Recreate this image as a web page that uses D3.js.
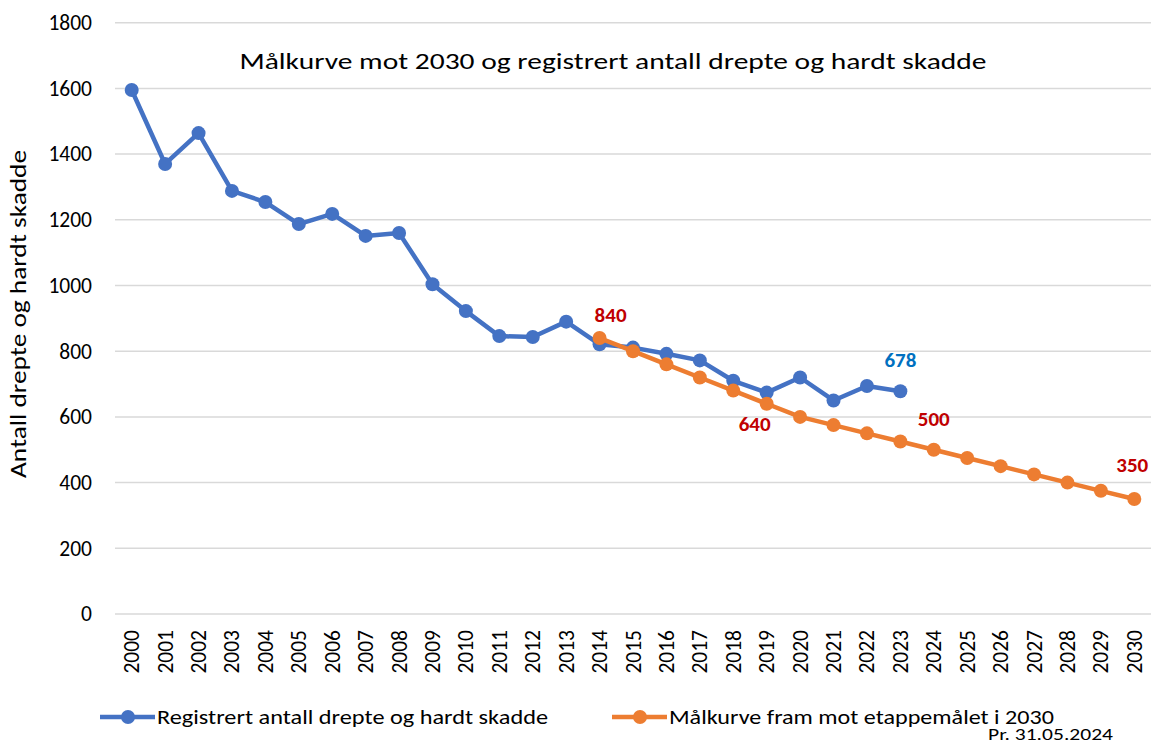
<!DOCTYPE html>
<html>
<head>
<meta charset="utf-8">
<script src="https://cdn.jsdelivr.net/npm/d3@7"></script>
<style>
  body { margin: 0; background: #fff; }
  text { font-family: Carlito, Lato, "Open Sans", sans-serif; }
</style>
</head>
<body>
<div id="chart-area"></div>
<script>
// data
const years = d3.range(2000, 2031).map(String)
const registered = [1595, 1370, 1464, 1288, 1254, 1187, 1218, 1151, 1160, 1004,
  922, 846, 843, 890, 821, 811, 792, 772, 710, 674, 720, 650, 694, 678]
const targetYears = years.slice(14)
const target = [840, 800, 760, 720, 680, 640, 600, 575, 550, 525, 500, 475, 450, 425, 400, 375, 350]
const yTicks = [0, 200, 400, 600, 800, 1000, 1200, 1400, 1600, 1800]

const W = 1157, H = 745
const MARGIN = { LEFT: 115, RIGHT: 6, TOP: 22.7, BOTTOM: 131 }
const BLUE = "#4472C4", ORANGE = "#ED7D31"

const svg = d3.select("#chart-area").append("svg")
  .attr("width", W)
  .attr("height", H)

const xScale = d3.scaleBand()
  .domain(years)
  .range([MARGIN.LEFT, W - MARGIN.RIGHT])
const xc = d => xScale(d) + xScale.bandwidth() / 2

const yScale = d3.scaleLinear()
  .domain([0, 1800])
  .range([H - MARGIN.BOTTOM, MARGIN.TOP])

// gridlines
svg.append("g").selectAll("line")
  .data(yTicks)
  .enter().append("line")
  .attr("x1", MARGIN.LEFT).attr("x2", W - MARGIN.RIGHT)
  .attr("y1", d => yScale(d)).attr("y2", d => yScale(d))
  .attr("stroke", "#D9D9D9").attr("stroke-width", 1.5)

// y axis
const yAxis = d3.axisLeft(yScale).tickValues(yTicks).tickFormat(d3.format("d"))
  .tickSize(0).tickPadding(23)
svg.append("g")
  .attr("transform", `translate(${MARGIN.LEFT},0)`)
  .call(yAxis)
  .call(g => g.select(".domain").remove())
  .selectAll("text")
  .attr("font-size", 21.5).attr("fill", "#000")
  .style("font-family", "Carlito, Lato, sans-serif")

// x axis
const xAxis = d3.axisBottom(xScale).tickSize(0)
svg.append("g")
  .attr("transform", `translate(0,${H - MARGIN.BOTTOM})`)
  .call(xAxis)
  .call(g => g.select(".domain").remove())
  .selectAll("text")
  .attr("font-size", 21.5).attr("fill", "#000")
  .style("font-family", "Carlito, Lato, sans-serif")
  .attr("transform", "rotate(-90)")
  .attr("text-anchor", "end")
  .attr("x", -16).attr("y", 0).attr("dy", "0.35em")

// lines
const line = d3.line().x(d => xc(d[0])).y(d => yScale(d[1]))
const regData = registered.map((v, i) => [years[i], v])
const tgtData = target.map((v, i) => [targetYears[i], v])

function drawSeries(data, color) {
  svg.append("path")
    .datum(data)
    .attr("d", line)
    .attr("fill", "none").attr("stroke", color)
    .attr("stroke-width", 4.5).attr("stroke-linejoin", "round")
  svg.append("g").selectAll("circle")
    .data(data)
    .enter().append("circle")
    .attr("cx", d => xc(d[0])).attr("cy", d => yScale(d[1]))
    .attr("r", 7).attr("fill", color)
}
drawSeries(regData, BLUE)
drawSeries(tgtData, ORANGE)

// data labels
const labels = [
  { year: "2014", value: 840, color: "#C00000", dx: 11, dy: -23 },
  { year: "2019", value: 640, color: "#C00000", dx: -12, dy: 20 },
  { year: "2024", value: 500, color: "#C00000", dx: 0, dy: -31 },
  { year: "2030", value: 350, color: "#C00000", dx: -2, dy: -34 },
  { year: "2023", value: 678, color: "#0070C0", dx: 0, dy: -32 }
]
svg.append("g").selectAll("text")
  .data(labels)
  .enter().append("text")
  .attr("x", d => xc(d.year) + d.dx)
  .attr("y", d => yScale(d.value) + d.dy)
  .attr("text-anchor", "middle").attr("dy", "0.35em")
  .attr("font-size", 21).attr("font-weight", "bold")
  .attr("fill", d => d.color)
  .text(d => d.value)

// title
svg.append("text")
  .attr("x", 613).attr("y", 61).attr("dy", "0.35em")
  .attr("text-anchor", "middle").attr("font-size", 23)
  .attr("textLength", 747).attr("lengthAdjust", "spacingAndGlyphs")
  .text("Målkurve mot 2030 og registrert antall drepte og hardt skadde")

// y title
svg.append("text")
  .attr("transform", "translate(18,314) rotate(-90)")
  .attr("text-anchor", "middle").attr("dy", "0.35em").attr("font-size", 22.5)
  .attr("textLength", 328).attr("lengthAdjust", "spacingAndGlyphs")
  .text("Antall drepte og hardt skadde")

// legend
const legend = [
  { name: "Registrert antall drepte og hardt skadde", color: BLUE, x: 100, w: 391 },
  { name: "Målkurve fram mot etappemålet i 2030", color: ORANGE, x: 612, w: 385 }
]
const lg = svg.append("g").selectAll("g")
  .data(legend)
  .enter().append("g")
  .attr("transform", d => `translate(${d.x},717)`)
lg.append("line")
  .attr("x1", 0).attr("x2", 55)
  .attr("stroke", d => d.color).attr("stroke-width", 4.5)
lg.append("circle").attr("cx", 28).attr("r", 7).attr("fill", d => d.color)
lg.append("text")
  .attr("x", 57).attr("dy", "0.35em").attr("font-size", 21)
  .attr("textLength", d => d.w).attr("lengthAdjust", "spacingAndGlyphs")
  .text(d => d.name)

svg.append("text")
  .attr("x", 988).attr("y", 734).attr("dy", "0.35em").attr("font-size", 17)
  .attr("textLength", 125).attr("lengthAdjust", "spacingAndGlyphs")
  .text("Pr. 31.05.2024")
</script>
</body>
</html>
